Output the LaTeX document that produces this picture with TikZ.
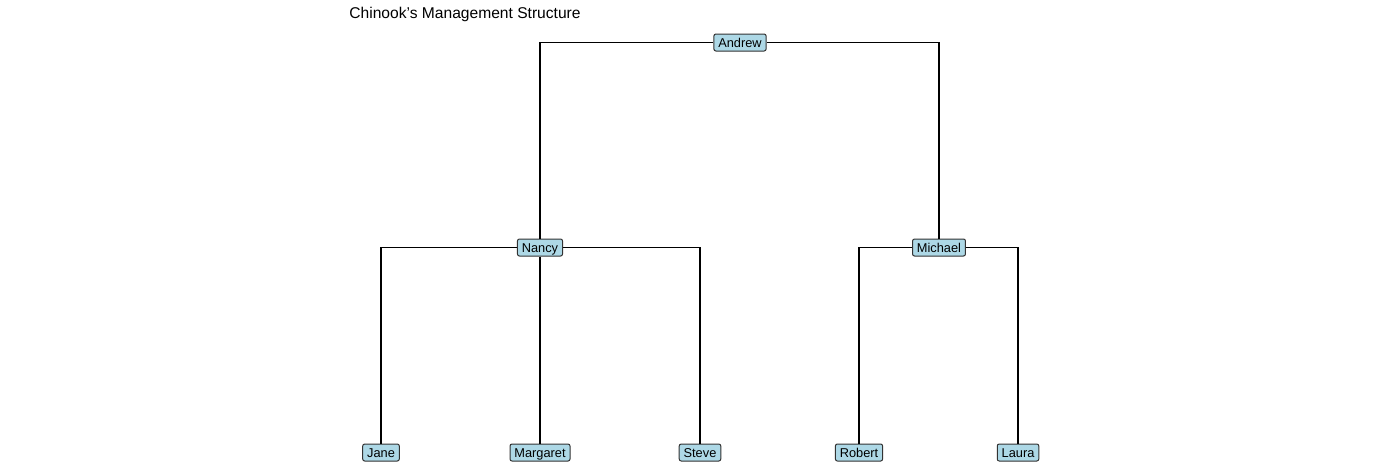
\documentclass[tikz,border=0pt]{standalone}
\usepackage{fontspec}
\setmainfont{Liberation Sans}[Ligatures=Common]
\definecolor{boxfill}{HTML}{ADD8E6}
\definecolor{boxline}{HTML}{333333}
\begin{document}
\begin{tikzpicture}[x=0.5pt,y=-0.5pt,
  person/.style={draw=boxline, fill=boxfill, rounded corners=1pt, line width=0.5pt,
    font=\fontsize{6.4}{7.5}\selectfont, inner xsep=2.2pt, inner ysep=0pt,
    minimum height=8.5pt, text height=4.6pt, text depth=0pt},
  link/.style={draw=black, line width=0.65pt},
  title/.style={font=\fontsize{7.8}{9}\selectfont, anchor=base west, inner sep=0pt}]
\useasboundingbox (0,0) rectangle (1400,472);
\node[title] (t) at (349,18) {Chinook's Management Structure};
\node[person] (andrew) at (740,42.5) {Andrew};
\node[person] (nancy) at (540,247.5) {Nancy};
\node[person] (michael) at (939,247.5) {Michael};
\node[person] (jane) at (381,452.5) {Jane};
\node[person] (margaret) at (540,452.5) {Margaret};
\node[person] (steve) at (700,452.5) {Steve};
\node[person] (robert) at (859,452.5) {Robert};
\node[person] (laura) at (1018,452.5) {Laura};
\draw[link] (andrew.west) -| (nancy.north);
\draw[link] (andrew.east) -| (michael.north);
\draw[link] (nancy.west) -| (jane.north);
\draw[link] (nancy.south) -- (margaret.north);
\draw[link] (nancy.east) -| (steve.north);
\draw[link] (michael.west) -| (robert.north);
\draw[link] (michael.east) -| (laura.north);
\end{tikzpicture}
\end{document}
